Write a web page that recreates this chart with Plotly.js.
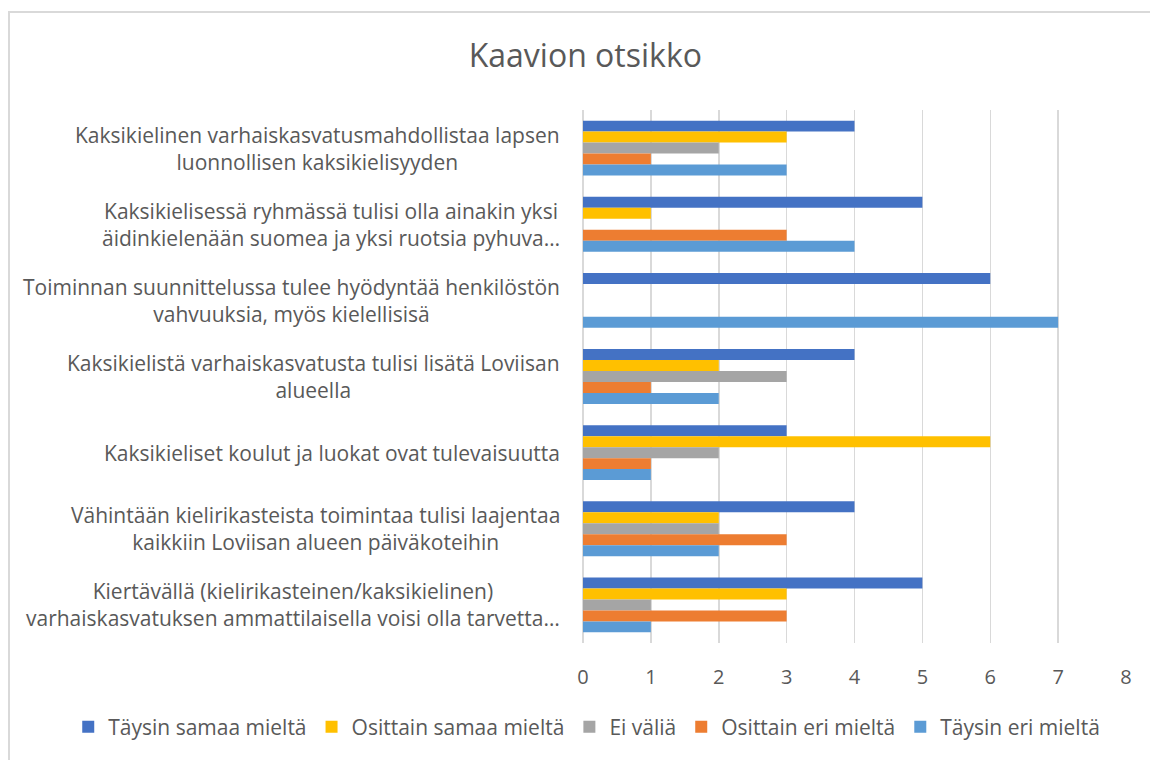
<!DOCTYPE html>
<html>
<head>
<meta charset="utf-8">
<script src="https://cdn.plot.ly/plotly-3.0.1.min.js"></script>
<style>
  html, body { margin: 0; padding: 0; background: #ffffff; }
  #wrap { position: relative; width: 1150px; height: 760px; overflow: hidden; }
  #chart { width: 1150px; height: 760px; }
  #frame { position: absolute; left: 8px; top: 11px; width: 1160px; height: 770px;
           border-left: 2px solid #d9d9d9; border-top: 2px solid #d9d9d9; pointer-events: none; }
</style>
</head>
<body>
<div id="wrap">
  <div id="chart"></div>
  <div id="frame"></div>
</div>
<script>
// ---- data ----
const categories = [
  "Kaksikielinen varhaiskasvatusmahdollistaa lapsen<br>luonnollisen kaksikielisyyden",
  "Kaksikielisessä ryhmässä tulisi olla ainakin yksi<br>äidinkielenään suomea ja yksi ruotsia pyhuva…",
  "Toiminnan suunnittelussa tulee hyödyntää henkilöstön<br>vahvuuksia, myös kielellisisä",
  "Kaksikielistä varhaiskasvatusta tulisi lisätä Loviisan<br>alueella",
  "Kaksikieliset koulut ja luokat ovat tulevaisuutta",
  "Vähintään kielirikasteista toimintaa tulisi laajentaa<br>kaikkiin Loviisan alueen päiväkoteihin",
  "Kiertävällä (kielirikasteinen/kaksikielinen)<br>varhaiskasvatuksen ammattilaisella voisi olla tarvetta…"
];
const seriesNames = ["Täysin samaa mieltä", "Osittain samaa mieltä", "Ei väliä", "Osittain eri mieltä", "Täysin eri mieltä"];
const taysinSamaa   = [4, 5, 6, 4, 3, 4, 5];
const osittainSamaa = [3, 1, 0, 2, 6, 2, 3];
const eiValia       = [2, 0, 0, 3, 2, 2, 1];
const osittainEri   = [1, 3, 0, 1, 1, 3, 3];
const taysinEri     = [3, 4, 7, 2, 1, 2, 1];
const xTicks = [0, 1, 2, 3, 4, 5, 6, 7, 8];

// ---- styling ----
const colors = ["#4472C4", "#FFC000", "#A5A5A5", "#ED7D31", "#5B9BD5"];
const FONT = "'Open Sans', 'Noto Sans', 'DejaVu Sans', sans-serif";
const TXT = "#595959";
const values = [taysinSamaa, osittainSamaa, eiValia, osittainEri, taysinEri];

const traces = values.map((v, i) => ({
  type: "bar",
  orientation: "h",
  name: seriesNames[i],
  x: v,
  y: categories,
  marker: { color: colors[i], line: { width: 0 } },
  hoverinfo: "x+name"
}));

const annotations = categories.map(c => ({
  text: c,
  xref: "paper", yref: "y",
  x: 0, y: c,
  xanchor: "right", yanchor: "middle",
  align: "center",
  xshift: -21,
  showarrow: false,
  font: { family: FONT, size: 21, color: TXT }
}));

const layout = {
  width: 1150, height: 760,
  margin: { l: 583, r: 24, t: 110, b: 117, autoexpand: false },
  paper_bgcolor: "#ffffff",
  plot_bgcolor: "#ffffff",
  font: { family: FONT, color: TXT },
  title: {
    text: "Kaavion otsikko",
    font: { family: FONT, size: 32, color: TXT },
    xref: "container", x: 0.509, xanchor: "center",
    yref: "container", y: 0.927, yanchor: "middle"
  },
  barmode: "group",
  bargap: 0.28,
  bargroupgap: 0,
  xaxis: {
    range: [0, 8],
    tickvals: xTicks,
    ticktext: xTicks.map(String),
    showgrid: true, gridcolor: "#d9d9d9", gridwidth: 1.5,
    zeroline: true, zerolinecolor: "#d9d9d9", zerolinewidth: 1.5,
    showline: false, ticks: "",
    ticklabelstandoff: 20,
    tickfont: { family: FONT, size: 20, color: TXT },
    automargin: false,
    fixedrange: true
  },
  yaxis: {
    type: "category",
    autorange: "reversed",
    showticklabels: false,
    showgrid: false, zeroline: false, showline: false, ticks: "",
    automargin: false,
    fixedrange: true
  },
  showlegend: true,
  legend: {
    orientation: "h",
    xref: "paper", x: -0.948, xanchor: "left",
    yref: "paper", y: -0.158, yanchor: "middle",
    font: { family: FONT, size: 21, color: TXT },
    itemwidth: 30,
    traceorder: "normal",
    itemclick: false, itemdoubleclick: false
  },
  annotations: annotations
};

Plotly.newPlot("chart", traces, layout, { displayModeBar: false, staticPlot: true });
</script>
</body>
</html>
